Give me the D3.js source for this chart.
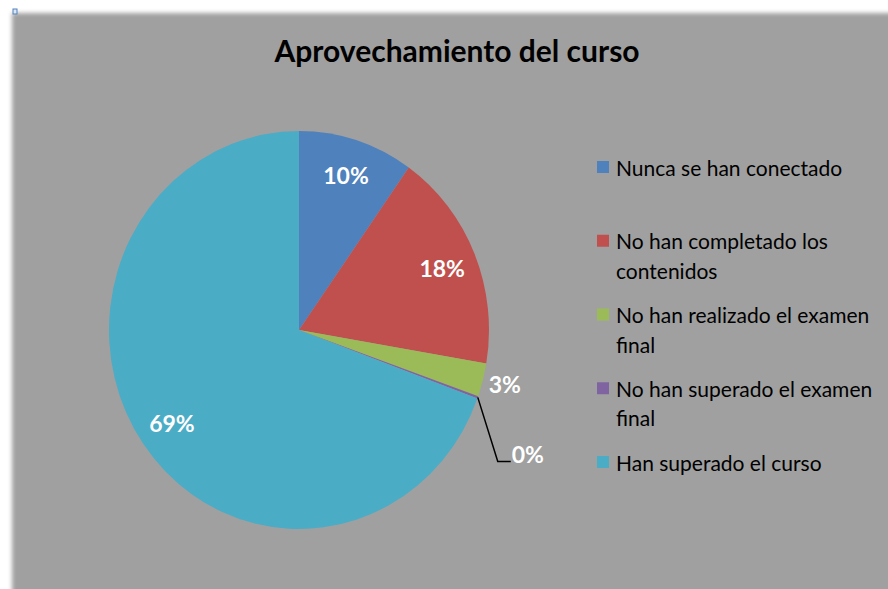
<!DOCTYPE html>
<html>
<head>
<meta charset="utf-8">
<script src="https://cdn.jsdelivr.net/npm/d3@7"></script>
<style>
  body { margin: 0; background: #fff; }
  svg { display: block; font-family: Lato, "Open Sans", sans-serif; }
</style>
</head>
<body>
<div id="pieChart"></div>
<script>
const width = 888;
const height = 589;

// data
const categories = [
    "Nunca se han conectado",
    "No han completado los contenidos",
    "No han realizado el examen final",
    "No han superado el examen final",
    "Han superado el curso"
];
const values = [9.8, 17.9, 2.7, 0.2, 69.4];
const colors = ["#4f81bd", "#c0504d", "#9bbb59", "#8064a2", "#4bacc6"];
const title = "Aprovechamiento del curso";

const svg = d3.select("div#pieChart").append("svg")
    .attr("width", width)
    .attr("height", height);

// soft edged gray plot area
const defs = svg.append("defs");
defs.append("filter").attr("id", "soft")
    .attr("x", "-5%").attr("y", "-5%").attr("width", "110%").attr("height", "110%")
    .append("feGaussianBlur").attr("stdDeviation", 2);

svg.append("rect")
    .attr("x", 12).attr("y", 13)
    .attr("width", width + 20).attr("height", height + 20)
    .attr("fill", "#a0a0a0")
    .attr("filter", "url(#soft)");

// little handle at the corner
svg.append("rect")
    .attr("x", 13).attr("y", 9).attr("width", 4).attr("height", 5)
    .attr("fill", "#dce6f2").attr("stroke", "#4f81bd").attr("stroke-width", 1);

svg.append("text")
    .attr("x", 457).attr("y", 50)
    .attr("text-anchor", "middle")
    .attr("dominant-baseline", "central")
    .style("font-size", "30px").style("font-weight", "bold")
    .attr("fill", "#000")
    .text(title);

//----------------------------PIE-----------------------------//
const cx = 299, cy = 330, radius = 190, sy = 1.047;

const pie = d3.pie().sort(null).value(d => d);
const arcs = pie(values);
const arc = d3.arc().innerRadius(0).outerRadius(radius);

svg.append("g")
    .attr("transform", `translate(${cx},${cy}) scale(1,${sy})`)
    .selectAll("path")
    .data(arcs)
    .join("path")
    .attr("d", arc)
    .attr("fill", (d, i) => colors[i]);

const total = d3.sum(values);
const fmt = v => Math.round(v / total * 100) + "%";
const polar = (a, r) => [cx + Math.sin(a) * r, cy - Math.cos(a) * r * sy];

const labels = svg.append("g")
    .style("font-size", "23px").style("font-weight", "bold")
    .attr("fill", "#fff");

arcs.forEach((d, i) => {
    const mid = (d.startAngle + d.endAngle) / 2;
    const share = d.value / total;
    if (share >= 0.05) {
        const p = polar(mid, 155);
        labels.append("text")
            .attr("x", p[0]).attr("y", p[1])
            .attr("text-anchor", "middle")
            .attr("dominant-baseline", "central")
            .text(fmt(d.value));
    } else if (share >= 0.01) {
        const p = polar(mid, radius + 6);
        labels.append("text")
            .attr("x", p[0]).attr("y", p[1] + 2)
            .attr("dominant-baseline", "central")
            .text(fmt(d.value));
    } else {
        const p0 = polar(mid, radius);
        const p1 = [p0[0] + 20, p0[1] + 64];
        const p2 = [p1[0] + 13, p1[1]];
        svg.append("polyline")
            .attr("points", [p0, p1, p2].map(p => p.join(",")).join(" "))
            .attr("fill", "none").attr("stroke", "#000").attr("stroke-width", 1.5);
        labels.append("text")
            .attr("x", p2[0] + 1).attr("y", p2[1] - 7)
            .attr("dominant-baseline", "central")
            .text(fmt(d.value));
    }
});

//----------------------------LEGEND-----------------------------//
const legendY = d3.scalePoint()
    .domain(categories)
    .range([167, 462]);

const legend = svg.append("g")
    .selectAll("g")
    .data(categories)
    .join("g")
    .attr("transform", d => `translate(597,${legendY(d)})`);

legend.append("rect")
    .attr("x", 0).attr("y", -6)
    .attr("width", 12).attr("height", 12)
    .attr("fill", (d, i) => colors[i]);

legend.each(function(d) {
    const g = d3.select(this);
    const text = g.append("text")
        .attr("x", 19)
        .style("font-size", "21px")
        .attr("fill", "#000");
    const words = d.split(" ");
    let lines = [], line = [];
    const probe = g.append("text").style("font-size", "21px");
    words.forEach(w => {
        probe.text(line.concat(w).join(" "));
        if (line.length && probe.node().getComputedTextLength() > 268) {
            lines.push(line.join(" "));
            line = [w];
        } else {
            line.push(w);
        }
    });
    lines.push(line.join(" "));
    probe.remove();
    lines.forEach((l, k) => {
        text.append("tspan")
            .attr("x", 19)
            .attr("y", k * 29.5)
            .attr("dominant-baseline", "central")
            .text(l);
    });
});
</script>
</body>
</html>
